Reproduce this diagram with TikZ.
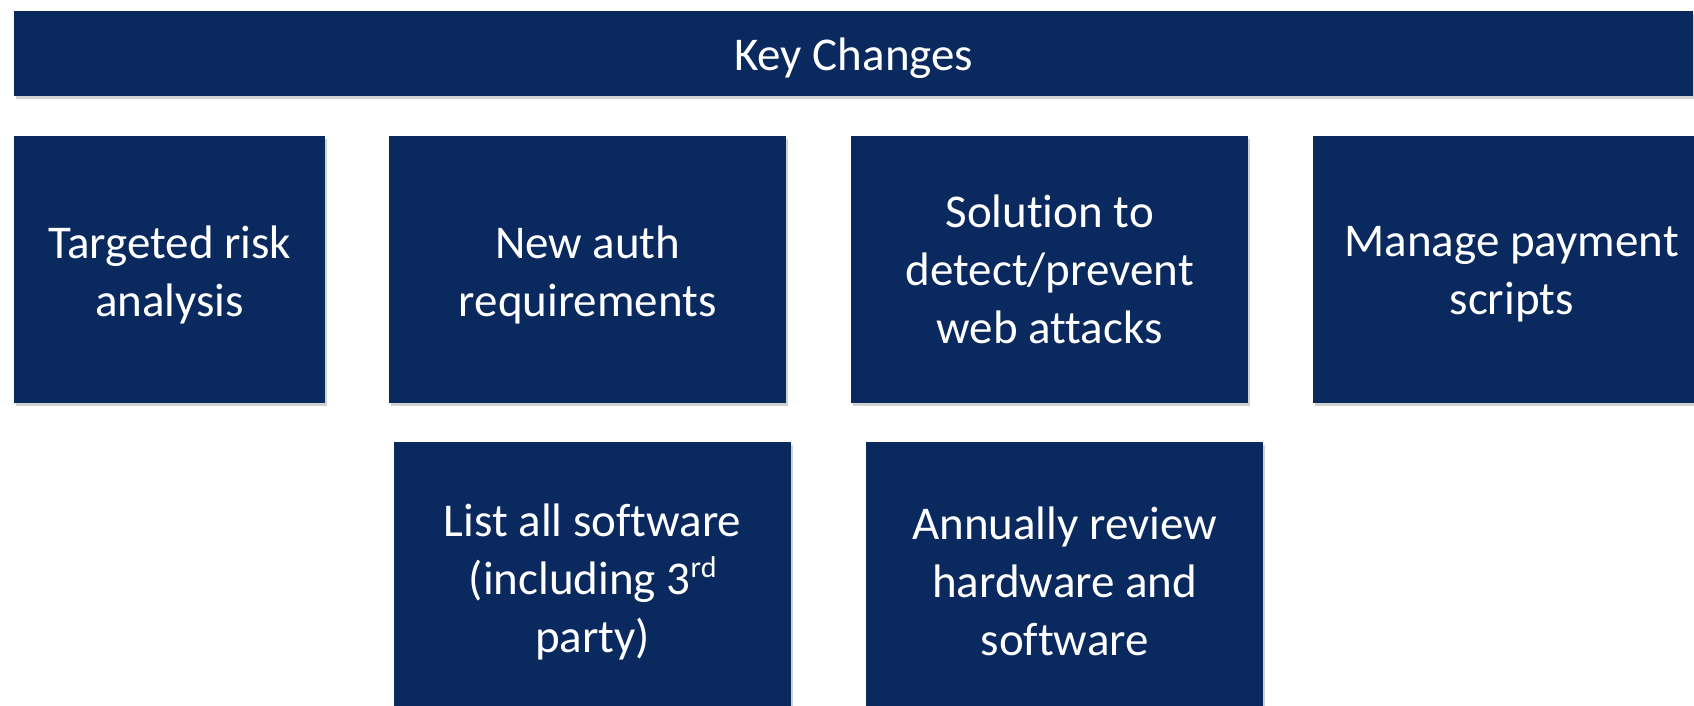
\documentclass[tikz,border=0pt]{standalone}
\usepackage{fontspec}
\setmainfont{Carlito}[Ligatures=NoCommon]
\usetikzlibrary{shadows}
\definecolor{navy}{RGB}{10,41,94}
\newcommand{\supord}[1]{\raisebox{0.36em}{\fontsize{30}{30}\selectfont #1}}
\tikzset{
  panel/.style={fill=navy, draw=none, inner sep=0pt, anchor=north west,
    drop shadow={shadow xshift=1.5pt, shadow yshift=-3pt, opacity=0.18, fill=black}},
  tile/.style={panel, minimum width=397pt, minimum height=267pt},
  caption/.style={text=white, align=center, inner sep=0pt,
    font=\fontsize{47}{58}\selectfont},
}
\begin{document}
\begin{tikzpicture}[x=1pt, y=-1pt]
  \useasboundingbox (0,0) rectangle (1694,705);
  \clip (0,0) rectangle (1694,705);
  % header bar
  \node[panel, minimum width=1679pt, minimum height=85pt,
        label={[caption, yshift=-5pt]center:Key Changes}] (head) at (14,11) {};
  % first row
  \node[tile, minimum width=311pt,
        label={[caption, yshift=-5pt]center:{Targeted risk\\analysis}}] (risk) at (14,136) {};
  \node[tile, label={[caption, yshift=-5pt]center:{New auth\\requirements}}] (auth) at (389,136) {};
  \node[tile, label={[caption]center:{Solution to\\detect/prevent\\web attacks}}] (web) at (851,136) {};
  \node[tile, label={[caption, yshift=-5pt]center:{Manage payment\\scripts}}] (scripts) at (1313,136) {};
  % second row
  \node[tile, label={[caption, yshift=-6pt]center:{List all software\\(including 3\supord{rd}\\party)}}] (soft) at (394,442) {};
  \node[tile, label={[caption, yshift=-6pt]center:{Annually review\\hardware and\\software}}] (hw) at (866,442) {};
\end{tikzpicture}
\end{document}
